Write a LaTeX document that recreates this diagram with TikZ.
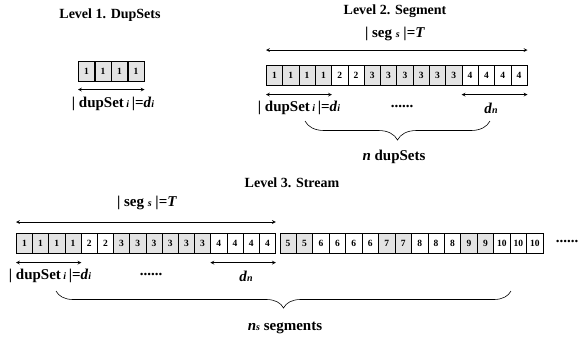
\documentclass[tikz,border=0pt]{standalone}
\usepackage{fontspec}
\setmainfont{Liberation Serif}
\usetikzlibrary{decorations.pathreplacing}
\tikzset{
  cellg/.style={draw, fill=gray!22, minimum width=16.4pt, minimum height=20pt, inner sep=0pt, font=\fontsize{9.5}{9.5}\selectfont\bfseries, anchor=north west, line width=0.6pt},
  cellw/.style={cellg, fill=white},
  title/.style={font=\fontsize{14}{14}\selectfont\bfseries},
  lbl/.style={font=\fontsize{15}{15}\selectfont\bfseries},
  dbl/.style={<->, >=stealth, line width=0.7pt},
  brc/.style={decorate, decoration={brace, mirror, amplitude=#1}, line width=0.6pt}
}
\newcommand{\smallit}[1]{{\fontsize{10}{10}\selectfont\textit{#1}}}
\newcommand{\dupl}{| dupSet\,\smallit{i}\,|=\textit{d}\smallit{i}}
\newcommand{\segl}{| seg \smallit{s} |=\textit{T}}
\newcommand{\dnl}{\textit{d}\smallit{n}}
\begin{document}
\begin{tikzpicture}[x=1pt,y=-1pt]
\path[use as bounding box] (0,0) rectangle (584,338);
% Level 1
\node[title] (t1) at (110,15) {Level 1. DupSets};
\foreach \i in {0,...,3} {
  \node[cellg] (a\i) at ({78+16.5*\i},61) {1};
}
\coordinate (a1l) at ([yshift=-8pt]a0.south west);
\draw[dbl] (a1l) -- (a3.south east |- a1l);
\node[lbl] (l1) at (113,104) {\dupl};
% Level 2
\node[title] (t2) at (395,11) {Level 2. Segment};
\node[lbl] (s2) at (395,34) {\segl};
\def\segA{{"1","1","1","1","2","2","3","3","3","3","3","3","4","4","4","4"}}
\def\shA{{1,1,1,1,0,0,1,1,1,1,1,1,0,0,0,0}}
\foreach \i in {0,...,15} {
  \pgfmathsetmacro{\v}{\segA[\i]}
  \pgfmathtruncatemacro{\g}{\shA[\i]}
  \ifnum\g=1
    \node[cellg] (b\i) at ({266+16.3*\i},65) {\v};
  \else
    \node[cellw] (b\i) at ({266+16.3*\i},65) {\v};
  \fi
}
\coordinate (b2top) at ([yshift=15pt]b0.north west);
\draw[dbl] (b2top) -- (b15.north east |- b2top);
\coordinate (b2s) at ([yshift=-9pt]b0.south west);
\draw[dbl] (b2s) -- (b3.south east |- b2s);
\coordinate (b2e) at ([yshift=-9pt]b12.south west);
\draw[dbl] (b2e) -- (b15.south east |- b2e);
\node[lbl] (l2) at (299,108) {\dupl};
\node[lbl] (dots2) at (402,106) {......};
\node[lbl] (dn2) at (491,108) {\dnl};
\coordinate (br2a) at (305,121);
\coordinate (br2b) at (490,121);
\draw[brc=19pt] (br2a) -- (br2b);
\node[lbl] (n2) at (394,157) {\textit{n} dupSets};
% Level 3
\node[title] (t3) at (292,183) {Level 3. Stream};
\node[lbl] (s3) at (147,203) {\segl};
\def\segB{{"5","5","6","6","6","6","7","7","8","8","8","9","9","10","10","10"}}
\def\shB{{1,1,0,0,0,0,1,1,0,0,0,1,1,0,0,0}}
\foreach \i in {0,...,15} {
  \pgfmathsetmacro{\v}{\segA[\i]}
  \pgfmathtruncatemacro{\g}{\shA[\i]}
  \ifnum\g=1
    \node[cellg, minimum width=16.2pt] (c\i) at ({16+16.2*\i},233) {\v};
  \else
    \node[cellw, minimum width=16.2pt] (c\i) at ({16+16.2*\i},233) {\v};
  \fi
}
\foreach \i in {0,...,15} {
  \pgfmathsetmacro{\v}{\segB[\i]}
  \pgfmathtruncatemacro{\g}{\shB[\i]}
  \ifnum\g=1
    \node[cellg, minimum width=16.45pt] (e\i) at ({279.5+16.45*\i},233) {\v};
  \else
    \node[cellw, minimum width=16.45pt] (e\i) at ({279.5+16.45*\i},233) {\v};
  \fi
}
\node[lbl] (dots3r) at (567,241) {......};
\coordinate (c3top) at ([yshift=11pt]c0.north west);
\draw[dbl] (c3top) -- (c15.north east |- c3top);
\coordinate (c3s) at ([yshift=-9pt]c0.south west);
\draw[dbl] (c3s) -- (c3.south east |- c3s);
\coordinate (c3e) at ([yshift=-9pt]c12.south west);
\draw[dbl] (c3e) -- (c15.south east |- c3e);
\node[lbl] (l3) at (50,276) {\dupl};
\node[lbl] (dots3) at (151,274) {......};
\node[lbl] (dn3) at (246,276) {\dnl};
\coordinate (br3a) at (56,291);
\coordinate (br3b) at (511,291);
\draw[brc=17pt] (br3a) -- (br3b);
\node[lbl] (n3) at (285,328) {\textit{n}\smallit{s} segments};
\end{tikzpicture}
\end{document}
